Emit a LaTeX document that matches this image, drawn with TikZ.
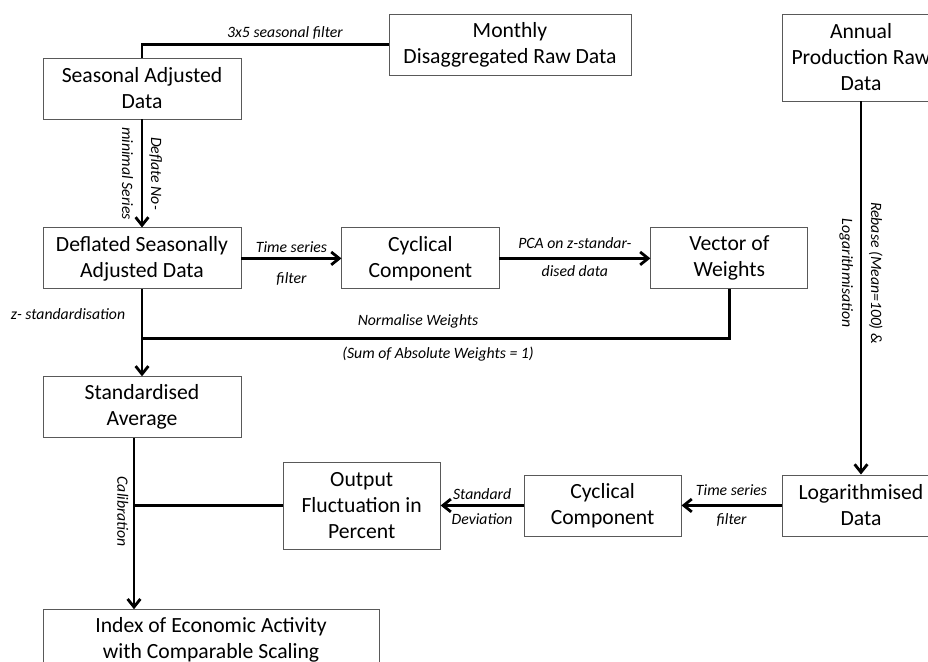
\documentclass[tikz,border=0pt]{standalone}
\usepackage{fontspec}
\setmainfont{Carlito}
\usetikzlibrary{arrows.meta, positioning}

\begin{document}
\begin{tikzpicture}[
  x=0.025cm, y=-0.025cm,
  every node/.style={
    inner sep=2pt,
    text centered,
    align=center
  },
  box/.style={rectangle, draw=black!65, semithick, font=\fontsize{15.4}{18.5}\selectfont},
  wide box/.style={box, minimum width=4.95cm, minimum height=1.525cm},
  small box/.style={box, minimum width=3.925cm, minimum height=1.525cm},
  tall box/.style={box, minimum width=3.925cm, minimum height=2.175cm},
  lbl/.style={font=\fontsize{11.2}{20.5}\selectfont\itshape, inner sep=3pt},
  >={Straight Barb[length=2mm,width=3.2mm]}, %open barbed tips
  myline/.style={draw, line width=2pt, black},
  ]
\useasboundingbox (0,0) rectangle (928,662);
\clip (0,0) rectangle (928,662);
% left column
\node[wide box] (seas) at (142,88.5) {Seasonal Adjusted\\Data};
\node[wide box, below=2.7cm of seas] (defl) {Deflated Seasonally\\Adjusted Data};
\node[wide box, below=2.175cm of defl] (std) {Standardised\\Average};
\node[box, minimum width=8.4cm, minimum height=1.525cm, below=4.275cm of std.south west, anchor=north west] (index) {Index of Economic Activity\\with Comparable Scaling};
% top row
\node[box, minimum width=6.05cm, minimum height=1.525cm] (month) at (510,44.5) {Monthly\\Disaggregated Raw Data};
\node[small box, right=2.5cm of defl] (cyc1) {Cyclical\\Component};
\node[small box, right=3.775cm of cyc1] (vect) {Vector of\\Weights};
% right column
\node[tall box, minimum width=3.95cm] (annual) at (861,57.5) {Annual\\Production Raw\\Data};
\node[small box, minimum width=3.95cm, below=9.325cm of annual] (loga) {Logarithmised\\Data};
\node[small box, left=2.5cm of loga] (cyc2) {Cyclical\\Component};
\node[tall box, left=2.075cm of cyc2] (outp) {Output\\Fluctuation in\\Percent};

\draw[myline] (month.west) -| (seas.north) node[lbl, pos=0.21, above] {3x5 seasonal filter};
\draw[myline,->] (seas) -- (defl) node[lbl, midway, rotate=-90] {Deflate No-\\minimal Series};
\draw[myline,->] (defl) -- (cyc1) node[lbl, midway, above] {Time series} node[lbl, midway, below=6pt] {filter};
\draw[myline,->] (cyc1) -- (vect) node[lbl, midway, above=3pt] {PCA on z-standar-} node[lbl, midway, below=1pt] {dised data};
\draw[myline,->] (defl) -- (std) node[lbl, pos=0.28, left=8pt] {z- standardisation};
\draw[myline] (vect.south) |- ([yshift=-1.225cm]defl.south)
  node[lbl, pos=0.765, above=3pt] {Normalise Weights}
  node[lbl, pos=0.748, below=2pt] {(Sum of Absolute Weights = 1)};
\draw[myline,->] (annual) -- (loga) node[lbl, pos=0.46, rotate=-90] {Rebase (Mean=100) \&\\Logarithmisation};
\draw[myline,->] (loga) -- (cyc2) node[lbl, midway, above=3pt] {Time series} node[lbl, midway, below=2pt] {filter};
\draw[myline,->] (cyc2) -- (outp) node[lbl, midway, above] {Standard} node[lbl, midway, below=2pt] {Deviation};
\draw[myline,->] ([xshift=-0.2cm]std.south) -- ([xshift=-0.2cm]std.south |- index.north)
  node[lbl, pos=0.43, rotate=-90, anchor=north] {Calibration};
\draw[myline] (outp.west) -- ([xshift=-0.2cm]std.south |- outp.west);
\end{tikzpicture}
\end{document}
